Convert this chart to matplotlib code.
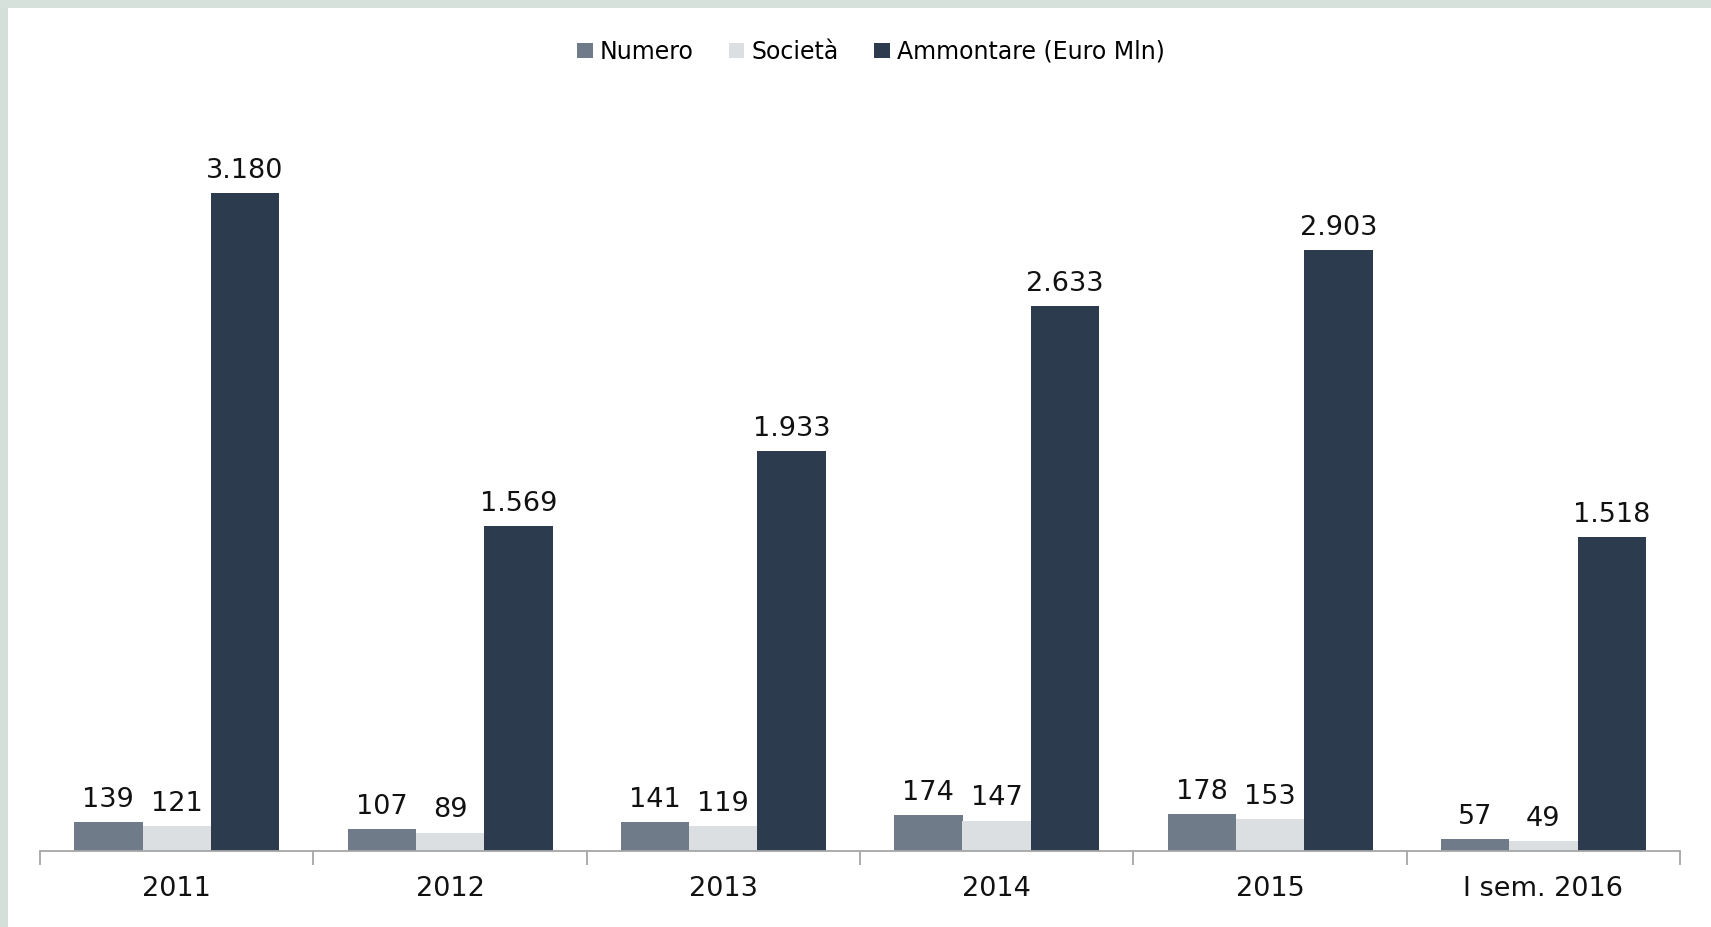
import numpy as np
import matplotlib.pyplot as plt
from matplotlib.patches import Rectangle
from matplotlib.ticker import FixedLocator

# dati
categorie = ["2011", "2012", "2013", "2014", "2015", "I sem. 2016"]
numero = [139, 107, 141, 174, 178, 57]
societa = [121, 89, 119, 147, 153, 49]
ammontare = [3180, 1569, 1933, 2633, 2903, 1518]

serie = ["Numero", "Società", "Ammontare (Euro Mln)"]
colori = ["#6F7B88", "#DCDFE2", "#2C3B4E"]


def fmt_it(v):
    # separatore delle migliaia all'italiana
    return f"{v:,}".replace(",", ".")


fig = plt.figure(figsize=(17.11, 9.27), dpi=100)
fig.patch.set_facecolor("white")

# cornice verdina in alto e a sinistra
fig.patches.append(Rectangle((0, 0), 8 / 1711, 1, transform=fig.transFigure,
                             facecolor="#D3DFD8", edgecolor="none", zorder=0))
fig.patches.append(Rectangle((0, 1 - 8 / 927), 1, 8 / 927, transform=fig.transFigure,
                             facecolor="#D6E1DB", edgecolor="none", zorder=0))

ax = fig.add_axes([40 / 1711, 76 / 927, 1640 / 1711, 751 / 927])

x = np.arange(len(categorie))
w = 0.25
for i, (vals, nome, col) in enumerate(zip([numero, societa, ammontare], serie, colori)):
    pos = x + (i - 1) * w
    ax.bar(pos, vals, width=w, color=col, label=nome, zorder=2)
    for p, v in zip(pos, vals):
        ax.text(p, v + 45, fmt_it(v), ha="center", va="bottom",
                fontsize=19.5, color="#111111")

ax.set_xlim(-0.5, len(categorie) - 0.5)
ax.set_ylim(0, 3630)

for s in ["top", "right", "left"]:
    ax.spines[s].set_visible(False)
ax.spines["bottom"].set_color("#A6A6A6")
ax.spines["bottom"].set_linewidth(1.3)
ax.set_yticks([])

# tacche ai bordi delle categorie, etichette al centro
ax.xaxis.set_major_locator(FixedLocator(np.arange(len(categorie) + 1) - 0.5))
ax.xaxis.set_minor_locator(FixedLocator(x))
ax.set_xticklabels([], minor=False)
ax.set_xticklabels(categorie, minor=True)
ax.tick_params(axis="x", which="major", length=10, width=1.3, color="#A6A6A6", direction="out")
ax.tick_params(axis="x", which="minor", length=0, pad=18, labelsize=19.5, labelcolor="#111111")

fig.legend(loc="center", bbox_to_anchor=(0.509, 0.944), ncol=3, frameon=False,
           fontsize=17, handlelength=0.65, handleheight=0.65, handletextpad=0.3,
           columnspacing=1.5)

fig.savefig("out.png", dpi=100)
